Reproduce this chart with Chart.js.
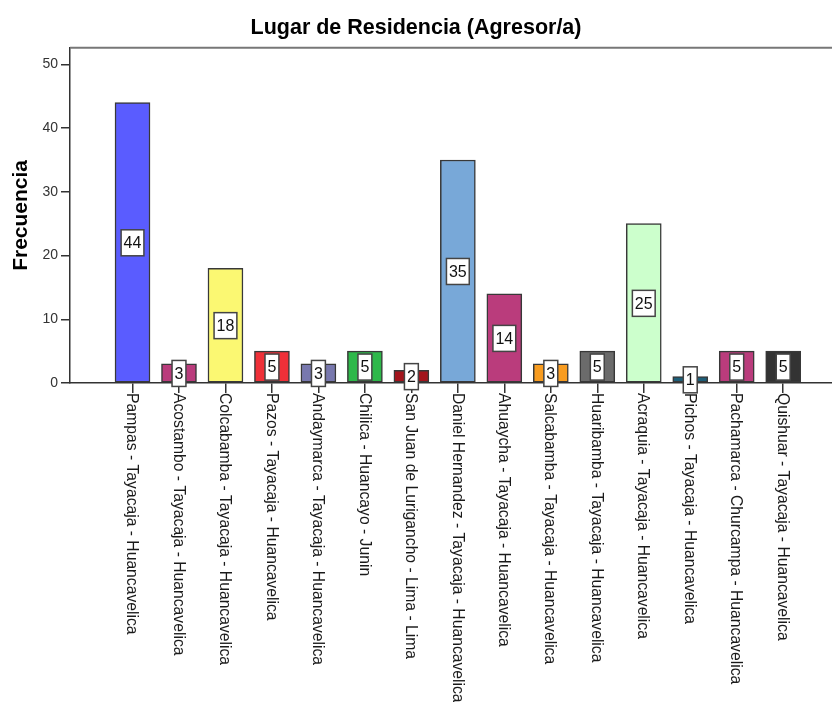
<!DOCTYPE html>
<html>
<head>
<meta charset="utf-8">
<script src="https://cdn.jsdelivr.net/npm/chart.js@4/dist/chart.umd.min.js"></script>
<style>
  html, body { margin: 0; padding: 0; background: #ffffff; }
  #wrap { width: 832px; height: 702px; }
</style>
</head>
<body>
<div id="wrap"><canvas id="c" width="832" height="702"></canvas></div>
<script>
const chartTitle = "Lugar de Residencia (Agresor/a)";
const yAxisTitle = "Frecuencia";
const categories = [
  "Pampas - Tayacaja - Huancavelica",
  "Acostambo - Tayacaja - Huancavelica",
  "Colcabamba - Tayacaja - Huancavelica",
  "Pazos - Tayacaja - Huancavelica",
  "Andaymarca - Tayacaja - Huancavelica",
  "Chilica - Huancayo - Junin",
  "San Juan de Lurigancho - Lima - Lima",
  "Daniel Hernandez - Tayacaja - Huancavelica",
  "Ahuaycha - Tayacaja - Huancavelica",
  "Salcabamba - Tayacaja - Huancavelica",
  "Huaribamba - Tayacaja - Huancavelica",
  "Acraquia - Tayacaja - Huancavelica",
  "Pichos - Tayacaja - Huancavelica",
  "Pachamarca - Churcampa - Huancavelica",
  "Quishuar - Tayacaja - Huancavelica"
];
const frequencies = [44, 3, 18, 5, 3, 5, 2, 35, 14, 3, 5, 25, 1, 5, 5];
const barColors = [
  "#5A5CFF", "#BA3C7C", "#FBF872", "#EF3038", "#7878AE",
  "#2EB84A", "#A3141C", "#78A8D8", "#BA3C7C", "#F89C20",
  "#6B6B6B", "#CCFFCC", "#1D5E78", "#BA3C7C", "#333333"
];
const yTickValues = [0, 10, 20, 30, 40, 50];

const FONT = "Arial, 'Liberation Sans', sans-serif";

const framePlugin = {
  id: 'frame',
  afterDatasetsDraw(chart) {
    const {ctx, chartArea} = chart;
    ctx.save();
    ctx.strokeStyle = '#777777';
    ctx.lineWidth = 2;
    ctx.beginPath();
    ctx.moveTo(chartArea.left, chartArea.top);
    ctx.lineTo(chartArea.right, chartArea.top);
    ctx.stroke();
    ctx.restore();
  }
};

const valueBoxPlugin = {
  id: 'valueBoxes',
  afterDraw(chart) {
    const {ctx} = chart;
    const xs = chart.scales.x, ys = chart.scales.y;
    ctx.save();
    ctx.font = "16px " + FONT;
    ctx.textAlign = 'center';
    ctx.textBaseline = 'middle';
    frequencies.forEach((v, i) => {
      const cx = xs.getPixelForValue(i);
      const cy = ys.getPixelForValue(v / 2);
      const txt = String(v);
      const w = ctx.measureText(txt).width + 5;
      const h = 26;
      ctx.fillStyle = '#ffffff';
      ctx.fillRect(cx - w / 2, cy - h / 2, w, h);
      ctx.strokeStyle = '#444444';
      ctx.lineWidth = 1.5;
      ctx.strokeRect(cx - w / 2, cy - h / 2, w, h);
      ctx.fillStyle = '#111111';
      ctx.fillText(txt, cx, cy + 1);
    });
    ctx.restore();
  }
};

const xLabelPlugin = {
  id: 'xLabels',
  afterDraw(chart) {
    const {ctx, chartArea} = chart;
    const xs = chart.scales.x;
    ctx.save();
    ctx.font = "15.7px " + FONT;
    ctx.fillStyle = '#1a1a1a';
    ctx.textAlign = 'left';
    ctx.textBaseline = 'middle';
    categories.forEach((lab, i) => {
      const x = xs.getPixelForValue(i);
      ctx.save();
      ctx.translate(x - 1, chartArea.bottom + 10);
      ctx.rotate(Math.PI / 2);
      ctx.fillText(lab, 0, 0);
      ctx.restore();
    });
    ctx.restore();
  }
};

new Chart(document.getElementById('c'), {
  type: 'bar',
  data: {
    datasets: [{
      label: yAxisTitle,
      data: frequencies.map((v, i) => ({x: i, y: v})),
      backgroundColor: barColors,
      borderColor: '#383838',
      borderWidth: 1.5,
      borderSkipped: false,
      barThickness: 35
    }]
  },
  options: {
    responsive: false,
    animation: false,
    layout: { padding: { left: 0, right: 0, top: 0, bottom: 0 } },
    plugins: {
      legend: { display: false },
      tooltip: { enabled: false },
      title: {
        display: true,
        text: chartTitle,
        color: '#000000',
        font: { family: FONT, size: 21.5, weight: 'bold', lineHeight: 1.2 },
        padding: { top: 15, bottom: 7 }
      }
    },
    scales: {
      x: {
        type: 'linear',
        offset: false,
        min: -1.345,
        max: 15.05,
        afterBuildTicks(scale) {
          scale.ticks = categories.map((_, i) => ({ value: i }));
        },
        afterFit(scale) { scale.height = 319; },
        ticks: { display: false },
        grid: {
          offset: false,
          drawOnChartArea: false,
          drawTicks: true,
          tickLength: 10,
          color: '#333333',
          lineWidth: 1.5
        },
        border: { display: true, color: '#333333', width: 1.5 }
      },
      y: {
        min: 0,
        max: 52.6,
        afterBuildTicks(scale) {
          scale.ticks = yTickValues.map(v => ({ value: v }));
        },
        afterFit(scale) { scale.width = 70; },
        ticks: {
          stepSize: 10,
          includeBounds: false,
          color: '#333333',
          padding: 3,
          font: { family: FONT, size: 14 }
        },
        grid: {
          drawOnChartArea: false,
          drawTicks: true,
          tickLength: 9,
          color: '#333333',
          lineWidth: 1.5
        },
        border: { display: true, color: '#333333', width: 1.5 },
        title: {
          display: true,
          text: yAxisTitle,
          color: '#000000',
          font: { family: FONT, size: 21, weight: 'bold', lineHeight: 1.2 },
          padding: { top: 9, bottom: 0 }
        }
      }
    }
  },
  plugins: [framePlugin, valueBoxPlugin, xLabelPlugin]
});
</script>
</body>
</html>
